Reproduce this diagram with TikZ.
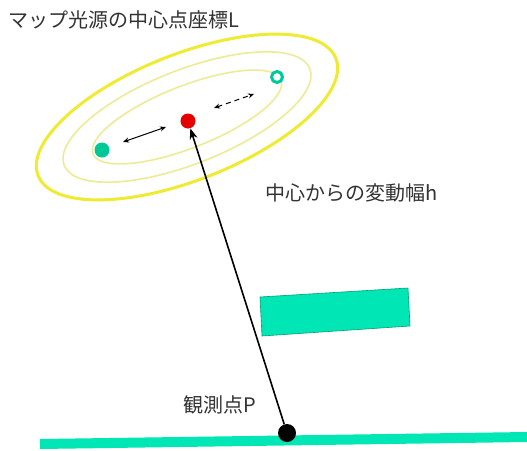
\documentclass[tikz,border=0pt]{standalone}
\usepackage{fontspec}
\newfontfamily\jp{Noto Sans CJK JP}
\usetikzlibrary{arrows.meta}
\definecolor{teal1}{RGB}{0,230,180}
\definecolor{teal2}{RGB}{0,200,150}
\definecolor{yel1}{RGB}{238,235,50}
\definecolor{yel2}{RGB}{238,235,150}
\tikzset{
  lbl/.style={font=\jp\fontsize{20}{22}\selectfont, anchor=west, inner sep=0pt, text=black!80},
  dotnode/.style={circle, inner sep=0pt, minimum size=#1},
  dblarrow/.style={<->, >={Stealth[length=6pt,width=5pt]}, line width=1pt},
  ell/.style={rotate around={21.5:(187,117)}},
}
\begin{document}
\begin{tikzpicture}[x=1pt,y=-1pt]
\useasboundingbox[fill=white] (0,0) rectangle (527,450);
% ellipses
\draw[yel1, line width=3pt, ell] (187,117) ellipse [x radius=160, y radius=63];
\draw[yel2, line width=1.6pt, ell] (187,117) ellipse [x radius=132, y radius=47];
\draw[yel2, line width=1.6pt, ell] (187,117) ellipse [x radius=101, y radius=31];
% dots
\node[dotnode=15pt, fill=teal2] (g1) at (102,150) {};
\node[dotnode=11pt, draw=teal2, line width=3pt, fill=white] (g2) at (277,77) {};
\node[dotnode=15pt, fill=red!90!black] (L) at (188,121) {};
% small arrows
\coordinate (a1) at (123,142);
\coordinate (a2) at (166,127);
\draw[dblarrow] (a1) -- (a2);
\coordinate (b1) at (214,108);
\coordinate (b2) at (254,94);
\draw[dblarrow, dashed, dash pattern=on 5pt off 4pt] (b1) -- (b2);
% rectangle
\filldraw[fill=teal1, draw=teal2!80!black, line width=0.6pt] (260,297) -- (408,288) -- (410,326) -- (262,336) -- cycle;
% bottom bar
\coordinate (bar1) at (40,444);
\coordinate (bar2) at (527,437);
\draw[teal1, line width=10pt] (bar1) -- (bar2);
% observer
\node[dotnode=18pt, fill=black] (P) at (287,433) {};
\draw[line width=1.6pt, -{Stealth[length=11pt,width=8pt]}] (P) -- (L);
% labels
\node[lbl] (t1) at (8,20) {マップ光源の中心点座標L};
\node[lbl] (t2) at (265,193) {中心からの変動幅h};
\node[lbl] (t3) at (183,405) {観測点P};
\end{tikzpicture}
\end{document}
